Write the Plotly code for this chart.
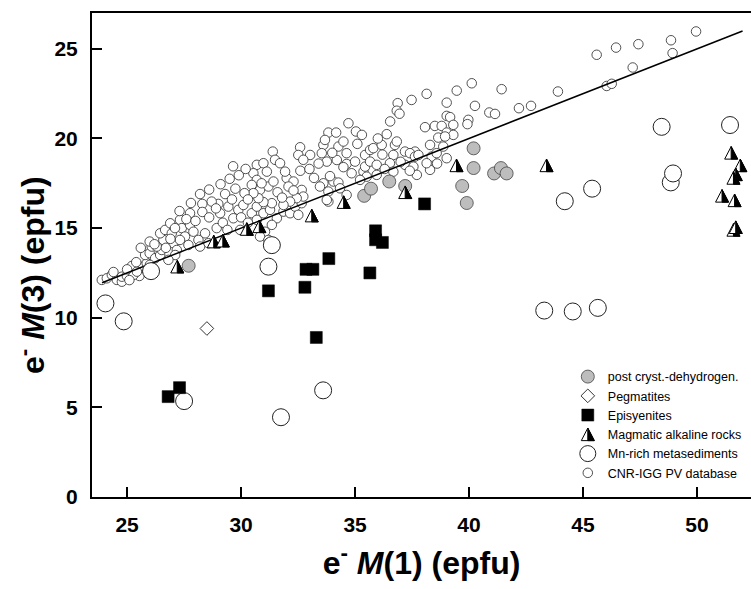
import plotly.graph_objects as go

# ---------------- data ----------------
db_x = [23.89, 24.11, 24.33, 24.55, 24.77, 24.77, 24.99, 25.21, 25.54, 25.71, 25.86, 25.79, 25.99, 26.08, 25.99,
        26.23, 26.45, 26.52, 26.59, 26.45, 26.67, 26.89, 26.96, 27.03, 27.18, 27.11, 27.32, 27.40, 27.54, 27.69,
        27.32, 27.76, 27.76, 27.91, 28.13, 28.42, 28.20, 28.57, 28.93, 29.08, 29.00, 28.71, 29.44, 29.66, 29.88,
        29.96, 30.10, 30.47, 30.69, 30.98, 31.05, 31.27, 31.57, 31.86, 32.15, 32.37, 32.51, 32.66, 33.83, 31.35,
        30.83, 25.28, 25.43, 26.30, 26.81,
        31.39, 32.59, 33.03, 32.51, 32.73, 33.61, 33.54, 33.76, 34.27, 34.63, 34.49, 35.44, 35.66, 35.80, 36.75,
        36.68, 37.19, 37.63, 38.29, 38.36, 38.87, 30.69, 30.98, 31.49, 31.71, 31.13, 30.54, 30.69, 30.47, 30.83,
        31.20, 31.42, 32.00, 32.30, 32.08, 31.93, 32.66, 32.73, 32.44, 32.15, 31.86, 31.35, 30.98, 30.76, 30.54,
        30.69, 31.20, 34.05, 34.27, 34.34, 33.61, 33.83, 33.76, 34.63, 34.85, 35.37, 35.51, 35.95, 35.44, 35.66,
        35.95, 36.53, 36.68, 37.19, 37.56, 36.17, 35.22, 37.71, 38.29, 38.14, 38.58, 39.02,
        40.12, 41.43, 43.90, 39.46, 38.14, 37.48, 36.87, 36.83, 36.95, 39.02, 40.26, 42.19, 42.72, 40.89, 41.14,
        39.02, 39.17, 36.54, 34.71, 39.97, 39.93, 39.31, 38.07, 38.50, 38.80, 33.83, 34.17, 35.04, 33.68, 36.39,
        39.02, 39.31, 38.65, 38.95, 36.83, 34.63, 34.49, 35.00, 37.41, 37.63, 37.78, 33.46,
        28.20, 28.60, 29.10, 29.50, 29.90, 30.20, 29.30, 29.75, 30.15, 27.30, 27.80, 28.30, 29.65,
        45.60, 46.45, 47.43, 48.86, 49.96, 48.93, 47.18, 46.04, 46.26,
        25.00, 25.40, 25.60, 26.20, 26.70, 26.90, 27.10, 27.60, 28.00, 28.30, 28.60, 28.90, 29.20, 29.40, 29.60,
        30.00, 30.30, 30.30, 30.90, 31.60, 31.80, 32.30, 32.60, 33.00, 33.20, 33.40, 33.90, 34.20, 34.00, 35.10,
        35.30, 36.00, 36.20, 36.30, 37.00, 37.40, 38.60, 24.40, 25.10, 26.00]
db_y = [12.11, 12.20, 12.39, 12.11, 12.01, 12.29, 12.33, 12.89, 12.33, 12.85, 13.04, 13.50, 13.60, 13.97, 14.25,
        13.32, 13.50, 13.78, 14.34, 14.71, 14.90, 15.27, 14.71, 14.16, 13.78, 13.50, 15.46, 15.00, 14.53, 14.06,
        14.34, 15.18, 15.83, 14.80, 14.34, 14.71, 13.97, 14.16, 15.00, 15.83, 16.35, 16.48, 16.20, 15.55, 16.02,
        14.90, 16.29, 15.83, 16.20, 15.83, 14.80, 16.02, 15.55, 15.92, 15.83, 16.20, 15.74, 16.39, 16.48, 15.18,
        14.53, 12.39, 12.57, 13.97, 13.23,
        19.27, 19.51, 19.08, 19.08, 18.81, 19.64, 19.18, 18.71, 19.55, 19.18, 19.83, 19.08, 19.36, 19.46, 19.64,
        19.08, 19.27, 19.27, 19.64, 18.99, 19.55, 18.53, 18.62, 18.81, 18.62, 18.15, 18.06, 17.69, 17.41, 17.13,
        17.32, 17.60, 17.79, 17.60, 17.32, 18.15, 17.13, 16.76, 16.67, 16.48, 16.29, 16.39, 16.45, 16.67, 16.95,
        15.46, 14.34, 17.60, 17.54, 17.22, 17.50, 17.04, 16.57, 16.85, 18.06, 18.15, 17.87, 17.97, 18.43, 18.71,
        18.53, 18.62, 18.15, 18.53, 18.43, 19.64, 17.69, 17.97, 18.25, 18.62, 19.18, 18.90,
        23.08, 22.75, 22.62, 22.67, 22.49, 22.15, 21.97, 21.55, 21.38, 22.00, 21.82, 21.69, 21.82, 21.45, 21.37,
        21.26, 21.19, 20.95, 20.85, 21.04, 20.80, 20.76, 20.63, 20.70, 20.70, 20.33, 20.33, 20.39, 19.92, 20.24,
        20.33, 20.20, 20.05, 20.11, 19.83, 18.58, 18.40, 18.71, 19.18, 18.99, 19.08, 17.32,
        16.90, 17.15, 17.45, 17.75, 17.95, 18.30, 16.90, 17.20, 16.95, 15.95, 16.40, 16.35, 18.45,
        24.67, 25.07, 25.26, 25.48, 25.97, 24.76, 23.96, 22.93, 23.05,
        12.70, 13.10, 13.90, 14.10, 13.90, 14.40, 15.00, 15.50, 15.40, 15.90, 15.60, 16.10, 15.30, 14.90, 16.60,
        15.60, 15.30, 16.60, 17.50, 17.00, 16.70, 17.10, 18.20, 18.30, 17.80, 18.60, 17.90, 18.80, 19.20, 19.70,
        20.20, 20.00, 19.10, 18.30, 18.70, 18.20, 18.60, 12.55, 12.10, 12.95]

mn_x = [24.05, 24.85, 26.05, 27.50, 31.20, 31.35, 31.75, 33.60, 43.30, 44.55, 45.65, 44.20, 45.40, 48.85, 48.95, 48.45, 51.45]
mn_y = [10.80, 9.80, 12.60, 5.35, 12.85, 14.05, 4.45, 5.95, 10.40, 10.35, 10.55, 16.50, 17.20, 17.55, 18.05, 20.65, 20.75]

mag_x = [27.2, 28.8, 29.2, 30.25, 30.8, 33.1, 34.5, 37.2, 39.45, 43.4, 51.5, 51.9, 51.7, 51.6, 51.1, 51.65, 51.6, 51.7]
mag_y = [12.85, 14.25, 14.3, 14.95, 15.1, 15.7, 16.45, 17.0, 18.5, 18.5, 19.2, 18.5, 18.0, 17.8, 16.8, 16.55, 14.9, 15.05]

epi_x = [26.8, 27.3, 31.2, 32.8, 32.85, 33.15, 33.85, 33.3, 35.65, 35.9, 35.9, 36.2, 38.05]
epi_y = [5.6, 6.1, 11.5, 11.7, 12.7, 12.7, 13.3, 8.9, 12.5, 14.85, 14.35, 14.2, 16.35]

peg_x = [28.5]
peg_y = [9.4]

dehy_x = [27.7, 35.4, 35.7, 36.5, 37.2, 39.7, 39.9, 40.2, 40.2, 41.1, 41.4, 41.65]
dehy_y = [12.9, 16.8, 17.2, 17.6, 17.35, 17.35, 16.4, 18.35, 19.45, 18.05, 18.35, 18.05]

line_x = [23.9, 52.0]
line_y = [11.95, 26.0]

x_ticks = [25, 30, 35, 40, 45, 50]
y_ticks = [0, 5, 10, 15, 20, 25]

names = ["CNR-IGG PV database", "Mn-rich metasediments", "Magmatic alkaline rocks",
         "Episyenites", "Pegmatites", "post cryst.-dehydrogen."]
x_title = "e<sup>-</sup> <i>M</i>(1) (epfu)"
y_title = "e<sup>-</sup> <i>M</i>(3) (epfu)"

# ---------------- layout geometry ----------------
W, H = 751, 589
M_L, M_R, M_T, M_B = 92, 0, 13, 92
X_RANGE = [23.46, 52.37]
Y_RANGE = [0, 27.0]
plot_w = W - M_L - M_R
plot_h = H - M_T - M_B
x_per_px = (X_RANGE[1] - X_RANGE[0]) / plot_w
y_per_px = (Y_RANGE[1] - Y_RANGE[0]) / plot_h

LEG_X, LEG_Y = 0.722, 0.279
LEG_FONT = 12.5
TITLE_FONT = dict(family="Arial, Liberation Sans", size=32, color="black", weight="bold")

# ---------------- figure ----------------
fig = go.Figure()

fig.add_trace(go.Scatter(x=db_x, y=db_y, mode="markers", name=names[0],
                         marker=dict(symbol="circle", size=9.5, color="white",
                                     line=dict(color="#333333", width=0.85))))
fig.add_trace(go.Scatter(x=line_x, y=line_y, mode="lines", showlegend=False, hoverinfo="skip",
                         line=dict(color="black", width=1.5)))
fig.add_trace(go.Scatter(x=mn_x, y=mn_y, mode="markers", name=names[1],
                         marker=dict(symbol="circle", size=17, color="white",
                                     line=dict(color="#222222", width=1))))
# half-filled triangles: points carried by an (invisible-marker) trace, glyphs drawn as shapes below
fig.add_trace(go.Scatter(x=mag_x, y=mag_y, mode="markers", name=names[2],
                         marker=dict(symbol="triangle-up", size=13, color="rgba(0,0,0,0)",
                                     line=dict(width=0))))
fig.add_trace(go.Scatter(x=epi_x, y=epi_y, mode="markers", name=names[3],
                         marker=dict(symbol="square", size=12, color="black",
                                     line=dict(color="black", width=0.5))))
fig.add_trace(go.Scatter(x=peg_x, y=peg_y, mode="markers", name=names[4],
                         marker=dict(symbol="diamond", size=10.5, color="white",
                                     line=dict(color="#333333", width=1))))
fig.add_trace(go.Scatter(x=dehy_x, y=dehy_y, mode="markers", name=names[5],
                         marker=dict(symbol="circle", size=13, color="#bdbdbd",
                                     line=dict(color="#444444", width=0.8))))

TRI_HALF_W_PX = 6.5
TRI_HALF_H_PX = 6.3


def half_triangle_shapes(cx, cy, dx, dy, xref, yref):
    left, right, bottom, top = cx - dx, cx + dx, cy - dy, cy + dy
    return [
        dict(type="path", xref=xref, yref=yref,
             path=f"M {left},{bottom} L {right},{bottom} L {cx},{top} Z",
             fillcolor="white", line=dict(color="black", width=1)),
        dict(type="path", xref=xref, yref=yref,
             path=f"M {cx},{top} L {cx},{bottom} L {right},{bottom} Z",
             fillcolor="black", line=dict(color="black", width=1)),
    ]


shapes = []
for mx, my in zip(mag_x, mag_y):
    shapes += half_triangle_shapes(mx, my, TRI_HALF_W_PX * x_per_px, TRI_HALF_H_PX * y_per_px, "x", "y")

# legend symbol for the half-filled triangle (legend item 4 of 6)
leg_left_px = M_L + LEG_X * plot_w
leg_top_px = M_T + (1 - LEG_Y) * plot_h
item_h = LEG_FONT * 1.3 + 3
sym_x_px = leg_left_px + 20
sym_y_px = leg_top_px + 5 + 3.5 * item_h
shapes += half_triangle_shapes((sym_x_px - M_L) / plot_w, 1 - (sym_y_px - M_T) / plot_h,
                               TRI_HALF_W_PX / plot_w, TRI_HALF_H_PX / plot_h, "paper", "paper")

axis_common = dict(ticks="inside", ticklen=10, tickwidth=1.5, tickcolor="black",
                   showline=True, linewidth=2, linecolor="black", showgrid=False,
                   zeroline=False,
                   tickfont=dict(family="Arial, Liberation Sans", size=21, color="black", weight="bold"))

fig.update_xaxes(range=X_RANGE, tickvals=x_ticks, mirror=True, ticklabelstandoff=8,
                 title=dict(text=x_title, standoff=16, font=TITLE_FONT),
                 **axis_common)
fig.update_yaxes(range=Y_RANGE, tickvals=y_ticks, ticklabelstandoff=8, **axis_common)

fig.update_layout(
    width=W, height=H, autosize=False,
    margin=dict(l=M_L, r=M_R, t=M_T, b=M_B),
    plot_bgcolor="white", paper_bgcolor="white",
    legend=dict(x=LEG_X, y=LEG_Y, xanchor="left", yanchor="top", traceorder="reversed",
                bgcolor="rgba(0,0,0,0)",
                font=dict(family="Arial, Liberation Sans", size=LEG_FONT, color="black")),
    shapes=shapes,
    annotations=[dict(text=y_title, xref="paper", yref="paper",
                      x=(31 - M_L) / plot_w, y=1 - (275 - M_T) / plot_h,
                      xanchor="center", yanchor="middle", textangle=-90, showarrow=False,
                      font=TITLE_FONT)],
)

fig.write_html("out.html")
